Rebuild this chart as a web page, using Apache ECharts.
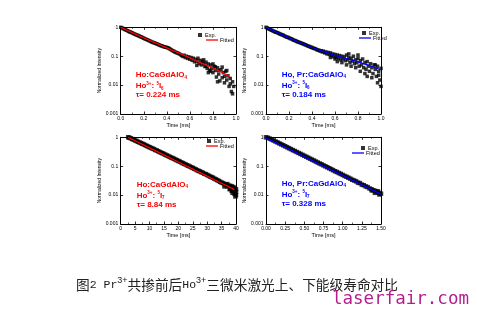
<!DOCTYPE html>
<html><head><meta charset="utf-8">
<script src="https://cdn.jsdelivr.net/npm/echarts@6/dist/echarts.min.js"></script>
<style>html,body{margin:0;padding:0;background:#fff}#c{width:477px;height:332px}</style>
</head><body><div id="c"></div>
<script>
// ---------- data ----------
const yTickLabels = ['0.001', '0.01', '0.1', '1'];
const p1XTicks = ['0.0', '0.2', '0.4', '0.6', '0.8', '1.0'];
const p2XTicks = ['0.0', '0.2', '0.4', '0.6', '0.8', '1.0'];
const p3XTicks = ['0', '5', '10', '15', '20', '25', '30', '35', '40'];
const p4XTicks = ['0.00', '0.25', '0.50', '0.75', '1.00', '1.25', '1.50'];

const p1Exp = [[0.00,1.00],[0.01,0.96],[0.02,0.91],[0.03,0.87],[0.04,0.83],[0.05,0.79],[0.06,0.76],[0.07,0.72],[0.08,0.69],[0.09,0.67],[0.10,0.64],[0.11,0.61],[0.12,0.585],[0.13,0.56],[0.14,0.54],[0.15,0.52],[0.16,0.50],[0.17,0.475],[0.18,0.46],[0.19,0.44],[0.20,0.42],[0.21,0.40],[0.22,0.385],[0.23,0.37],[0.24,0.355],[0.25,0.34],[0.26,0.325],[0.27,0.31],[0.28,0.30],[0.29,0.29],[0.30,0.28],[0.31,0.27],[0.32,0.26],[0.33,0.25],[0.34,0.24],[0.35,0.23],[0.36,0.225],[0.37,0.215],[0.38,0.21],[0.39,0.205],[0.40,0.20],[0.41,0.195],[0.42,0.185],[0.43,0.175],[0.44,0.165],[0.45,0.155],[0.46,0.15],[0.47,0.14],[0.48,0.135],[0.49,0.13],[0.50,0.125],[0.51,0.12],[0.52,0.112],[0.53,0.105],[0.54,0.098],[0.55,0.108],[0.56,0.09],[0.57,0.1],[0.58,0.084],[0.59,0.095],[0.60,0.078],[0.61,0.09],[0.62,0.072],[0.63,0.085],[0.64,0.064],[0.65,0.078],[0.66,0.066],[0.67,0.085],[0.68,0.055],[0.69,0.072],[0.70,0.05],[0.71,0.066],[0.72,0.056],[0.73,0.044],[0.74,0.062],[0.75,0.038],[0.76,0.054],[0.77,0.033],[0.78,0.05],[0.79,0.038],[0.80,0.027],[0.81,0.045],[0.82,0.032],[0.83,0.019],[0.84,0.04],[0.85,0.024],[0.86,0.014],[0.87,0.034],[0.88,0.018],[0.89,0.027],[0.90,0.012],[0.91,0.03],[0.92,0.015],[0.93,0.021],[0.94,0.009],[0.95,0.017],[0.96,0.006],[0.97,0.013],[0.98,0.009],
  [0.66,0.048],[0.72,0.075],[0.76,0.027],[0.80,0.054],[0.84,0.013],[0.88,0.042],[0.90,0.02],[0.92,0.032],[0.85,0.032],[0.82,0.043],[0.78,0.03],[0.74,0.045],[0.95,0.011],[0.97,0.005]];
const p1Fit = [[0,1],[0.1,0.65],[0.2,0.43],[0.3,0.29],[0.4,0.195],[0.5,0.13],[0.6,0.087],[0.7,0.058],[0.8,0.039],[0.9,0.025],[0.94,0.02]];

const p2Exp = [[0.00,1.0],[0.01,0.95],[0.02,0.90],[0.03,0.86],[0.04,0.82],[0.05,0.79],[0.06,0.75],[0.07,0.72],[0.08,0.69],[0.09,0.67],[0.10,0.65],[0.11,0.62],[0.12,0.59],[0.13,0.57],[0.14,0.55],[0.15,0.53],[0.16,0.50],[0.17,0.48],[0.18,0.46],[0.19,0.45],[0.20,0.43],[0.21,0.41],[0.22,0.40],[0.23,0.38],[0.24,0.36],[0.25,0.35],[0.26,0.34],[0.27,0.32],[0.28,0.31],[0.29,0.30],[0.30,0.29],[0.31,0.28],[0.32,0.27],[0.33,0.26],[0.34,0.25],[0.35,0.24],[0.36,0.23],[0.37,0.22],[0.38,0.215],[0.39,0.205],[0.40,0.20],[0.41,0.19],[0.42,0.185],[0.43,0.18],[0.44,0.17],[0.45,0.165],[0.46,0.16],[0.47,0.15],[0.48,0.155],[0.49,0.14],[0.50,0.15],[0.51,0.13],[0.52,0.14],[0.53,0.12],[0.54,0.135],[0.55,0.115],[0.56,0.13],[0.57,0.105],[0.58,0.12],[0.59,0.095],[0.60,0.115],[0.61,0.09],[0.62,0.11],[0.63,0.085],[0.64,0.105],[0.65,0.075],[0.66,0.10],[0.67,0.08],[0.68,0.095],[0.69,0.07],[0.70,0.11],[0.71,0.075],[0.72,0.09],[0.73,0.06],[0.74,0.085],[0.75,0.068],[0.76,0.10],[0.77,0.055],[0.78,0.075],[0.79,0.06],[0.80,0.085],[0.81,0.045],[0.82,0.07],[0.83,0.05],[0.84,0.08],[0.85,0.04],[0.86,0.06],[0.87,0.035],[0.88,0.065],[0.89,0.045],[0.90,0.03],[0.91,0.055],[0.92,0.04],[0.93,0.025],[0.94,0.05],[0.95,0.035],[0.96,0.02],[0.97,0.045],[0.98,0.03],[0.99,0.015],[1.00,0.038],
  [0.62,0.065],[0.66,0.06],[0.70,0.05],[0.74,0.045],[0.78,0.04],[0.82,0.03],[0.86,0.025],[0.88,0.02],[0.92,0.018],[0.95,0.05],[0.98,0.022],[1.00,0.009],[0.97,0.012],[0.72,0.12],[0.80,0.11],[0.56,0.09],[0.60,0.08]];
const p2Fit = [[0,1],[0.1,0.65],[0.2,0.43],[0.3,0.29],[0.4,0.20],[0.5,0.145],[0.6,0.107],[0.7,0.083],[0.8,0.064],[0.9,0.047],[1.0,0.034]];

const p3Exp = [[2.6,1.0],[3,0.97],[3.5,0.92],[4,0.87],[4.5,0.83],[5,0.78],[5.5,0.745],[6,0.70],[6.5,0.665],[7,0.63],[7.5,0.60],[8,0.565],[8.5,0.54],[9,0.505],[9.5,0.48],[10,0.455],[10.5,0.43],[11,0.41],[11.5,0.39],[12,0.365],[12.5,0.35],[13,0.33],[13.5,0.31],[14,0.295],[14.5,0.28],[15,0.265],[15.5,0.25],[16,0.235],[16.5,0.225],[17,0.21],[17.5,0.20],[18,0.19],[18.5,0.18],[19,0.17],[19.5,0.16],[20,0.152],[20.5,0.144],[21,0.136],[21.5,0.128],[22,0.121],[22.5,0.115],[23,0.108],[23.5,0.103],[24,0.097],[24.5,0.092],[25,0.087],[25.5,0.082],[26,0.078],[26.5,0.073],[27,0.069],[27.5,0.066],[28,0.062],[28.5,0.059],[29,0.055],[29.5,0.053],[30,0.050],[30.5,0.047],[31,0.044],[31.5,0.042],[32,0.040],[32.5,0.037],[33,0.035],[33.5,0.033],[34,0.031],[34.5,0.029],[35,0.027],[35.5,0.026],[36,0.024],[36.5,0.023],[37,0.020],[37.5,0.021],[38,0.017],[38.5,0.020],[39,0.014],[39.5,0.018],[40,0.013],
  [36,0.020],[37,0.024],[38,0.021],[38.5,0.014],[39,0.019],[39.5,0.011],[40,0.016],[39.8,0.009],[38.8,0.012],[37.8,0.016],[40,0.010]];
const p3Fit = [[2.6,1.0],[5,0.762],[10,0.433],[15,0.246],[20,0.140],[25,0.0795],[30,0.0452],[35,0.0257],[39.5,0.0155]];

const p4Exp = [[0,1.0],[0.025,0.96],[0.05,0.90],[0.075,0.835],[0.1,0.775],[0.125,0.715],[0.15,0.665],[0.175,0.615],[0.2,0.57],[0.225,0.53],[0.25,0.49],[0.275,0.455],[0.3,0.42],[0.325,0.39],[0.35,0.36],[0.375,0.335],[0.4,0.31],[0.425,0.288],[0.45,0.267],[0.475,0.247],[0.5,0.229],[0.525,0.212],[0.55,0.197],[0.575,0.182],[0.6,0.169],[0.625,0.157],[0.65,0.145],[0.675,0.134],[0.7,0.124],[0.725,0.116],[0.75,0.107],[0.775,0.099],[0.8,0.092],[0.825,0.085],[0.85,0.079],[0.875,0.073],[0.9,0.067],[0.925,0.063],[0.95,0.058],[0.975,0.054],[1.0,0.050],[1.025,0.046],[1.05,0.043],[1.075,0.040],[1.1,0.037],[1.125,0.034],[1.15,0.032],[1.175,0.030],[1.2,0.027],[1.225,0.026],[1.25,0.023],[1.275,0.022],[1.3,0.020],[1.325,0.019],[1.35,0.017],[1.375,0.016],[1.4,0.0148],[1.425,0.014],[1.45,0.0127],[1.475,0.0118],[1.5,0.0112],
  [1.42,0.012],[1.46,0.0135],[1.48,0.0105],[1.38,0.0145]];
const p4Fit = [[0,0.93],[0.25,0.455],[0.5,0.215],[0.75,0.101],[1.0,0.048],[1.25,0.0225],[1.5,0.0108]];

// ---------- layout / style ----------
const RED = '#ff0000', BLUE = '#0000ff';
const panels = [
  {box:[120.7,27.3,115.3,86.7], max:1, interval:0.2, ticks:p1XTicks, exp:p1Exp, fit:p1Fit, color:RED, sym:3.5,
   leg:{sq:[200,36], ln:[206,41]}, txt:[135.7,76], lines:['{b|Ho:CaGdAlO}{sub|4}','{b|Ho}{sup|3+}{b|: }{sup|5}{b|I}{sub|6}','{b|τ= 0.224 ms}']},
  {box:[266,27.3,115,86.7], max:1, interval:0.2, ticks:p2XTicks, exp:p2Exp, fit:p2Fit, color:BLUE, sym:3.5,
   leg:{sq:[364,34], ln:[359,39]}, txt:[281.7,75.5], lines:['{b|Ho, Pr:CaGdAlO}{sub|4}','{b|Ho}{sup|3+}{b|: }{sup|5}{b|I}{sub|6}','{b|τ= 0.184 ms}']},
  {box:[120.7,137.3,115.3,86.7], max:40, interval:5, ticks:p3XTicks, exp:p3Exp, fit:p3Fit, color:RED, sym:4.5,
   leg:{sq:[209,142], ln:[206,147]}, txt:[136.7,185.7], lines:['{b|Ho:CaGdAlO}{sub|4}','{b|Ho}{sup|3+}{b|: }{sup|5}{b|I}{sub|7}','{b|τ= 8.84 ms}']},
  {box:[266,137.3,115,86.7], max:1.5, interval:0.25, ticks:p4XTicks, exp:p4Exp, fit:p4Fit, color:BLUE, sym:4.5,
   leg:{sq:[363,149], ln:[352,154]}, txt:[281.7,184.5], lines:['{b|Ho, Pr:CaGdAlO}{sub|4}','{b|Ho}{sup|3+}{b|: }{sup|5}{b|I}{sub|7}','{b|τ= 0.328 ms}']}
];

const FONT = 'Liberation Sans, Arial, sans-serif';
const grid = [], xAxis = [], yAxis = [], series = [], legend = [], graphic = [];
const lineCol = '#000';

panels.forEach((p, i) => {
  grid.push({left:p.box[0], top:p.box[1], width:p.box[2], height:p.box[3], show:false});
  const xBase = {type:'value', gridIndex:i, min:0, max:p.max, interval:p.interval,
    axisLine:{show:true, onZero:false, lineStyle:{color:lineCol, width:1}},
    axisTick:{show:true, inside:true, length:2.5, lineStyle:{color:lineCol, width:0.8}},
    minorTick:{show:true, splitNumber:2, length:1.5, lineStyle:{color:lineCol, width:0.6}},
    splitLine:{show:false}};
  xAxis.push(Object.assign({}, xBase, {position:'bottom',
    axisLabel:{show:true, fontSize:5, color:'#000', fontFamily:FONT, margin:2.5,
      formatter: v => p.ticks[Math.round(v / p.interval)]},
    name:'Time [ms]', nameLocation:'middle', nameGap:8.5,
    nameTextStyle:{fontSize:5.5, color:'#000', fontFamily:FONT}}));
  xAxis.push(Object.assign({}, xBase, {position:'top', axisLabel:{show:false}}));
  const yBase = {type:'log', logBase:10, gridIndex:i, min:0.001, max:1,
    axisLine:{show:true, onZero:false, lineStyle:{color:lineCol, width:1}},
    axisTick:{show:true, inside:true, length:2.5, lineStyle:{color:lineCol, width:0.8}},
    splitLine:{show:false}};
  yAxis.push(Object.assign({}, yBase, {position:'left',
    axisLabel:{show:true, fontSize:5, color:'#000', fontFamily:FONT, margin:2.5,
      formatter: v => yTickLabels[Math.round(Math.log10(v)) + 3]},
    name:'Normalized Intensity', nameLocation:'middle', nameGap:12,
    nameTextStyle:{fontSize:5, color:'#000', fontFamily:FONT}}));
  yAxis.push(Object.assign({}, yBase, {position:'right', axisLabel:{show:false}}));

  series.push({name:'exp'+i, type:'scatter', xAxisIndex:2*i, yAxisIndex:2*i, data:p.exp,
    symbol:'rect', symbolSize:p.sym, itemStyle:{color:'#000'}, silent:true, z:2});
  series.push({name:'fit'+i, type:'line', xAxisIndex:2*i, yAxisIndex:2*i, data:p.fit,
    symbol:'none', smooth:false, lineStyle:{color:p.color, width:1.3}, itemStyle:{color:p.color}, silent:true, z:3});

  legend.push({data:[{name:'exp'+i, icon:'rect'}], left:p.leg.sq[0]-2, top:p.leg.sq[1]-4, padding:0,
    itemWidth:4, itemHeight:4, selectedMode:false, formatter:() => 'Exp.',
    textStyle:{fontSize:5.5, color:'#000', fontFamily:FONT, padding:[0,0,0,-2]}});
  legend.push({data:[{name:'fit'+i, icon:'rect'}], left:p.leg.ln[0], top:p.leg.ln[1]-4, padding:0,
    itemWidth:12, itemHeight:1.3, selectedMode:false, formatter:() => 'Fitted',
    textStyle:{fontSize:5.5, color:'#000', fontFamily:FONT, padding:[0,0,0,-3]}});

  p.lines.forEach((t, k) => {
    graphic.push({type:'text', left:p.txt[0], top:p.txt[1] + k*10 - 5, silent:true,
      style:{text:t, fill:p.color,
        rich:{
          b:{fontSize:8, fontWeight:'bold', fontFamily:FONT, fill:p.color, lineHeight:10},
          sub:{fontSize:4.5, fontWeight:'bold', fontFamily:FONT, fill:p.color, lineHeight:6, verticalAlign:'bottom'},
          sup:{fontSize:4.5, fontWeight:'bold', fontFamily:FONT, fill:p.color, lineHeight:6, verticalAlign:'top'}
        }}});
  });
});

// caption and watermark
graphic.push({type:'text', left:76, top:276, silent:true,
  style:{text:'{c|图}{l|2 Pr}{s|3+}{c|共掺前后}{l|Ho}{s|3+}{c|三微米激光上、下能级寿命对比}',
    rich:{
      c:{fontSize:13.7, fontFamily:'Noto Sans CJK SC', fill:'#222', lineHeight:17},
      l:{fontSize:11.5, fontFamily:'Liberation Mono, monospace', fill:'#222', lineHeight:17},
      s:{fontSize:9, fontFamily:'Liberation Sans, Arial', fill:'#222', lineHeight:10, verticalAlign:'top'}
    }}});
graphic.push({type:'text', silent:true, x:332, y:299.5,
  style:{text:'laserfair.com', font:'17.5px "DejaVu Sans Mono", monospace', fill:'#b31e8e',
    textAlign:'left', textVerticalAlign:'middle'}});

const chart = echarts.init(document.getElementById('c'), null, {renderer:'canvas'});
chart.setOption({animation:false, backgroundColor:'#fff', grid, xAxis, yAxis, series, legend, graphic});
</script>
</body></html>
